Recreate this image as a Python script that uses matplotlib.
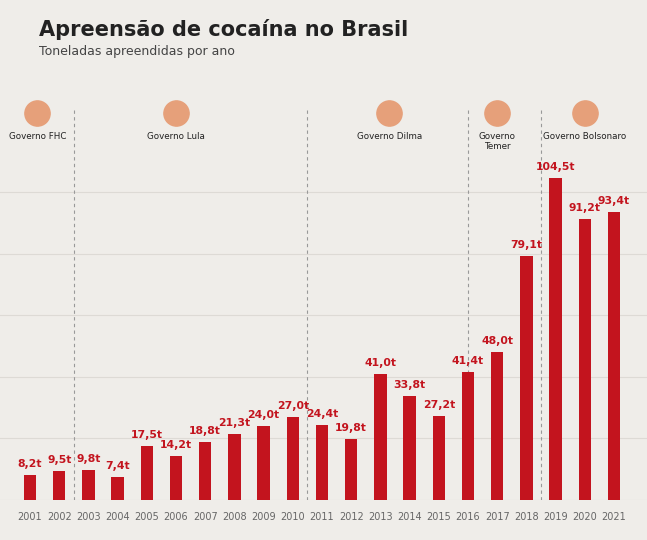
import matplotlib
matplotlib.use("Agg")
import matplotlib.pyplot as plt

years = list(range(2001, 2022))
values = [8.2, 9.5, 9.8, 7.4, 17.5, 14.2, 18.8, 21.3, 24.0, 27.0, 24.4, 19.8, 41.0, 33.8, 27.2, 41.4, 48.0, 79.1, 104.5, 91.2, 93.4]
labels = ["8,2t", "9,5t", "9,8t", "7,4t", "17,5t", "14,2t", "18,8t", "21,3t", "24,0t", "27,0t", "24,4t", "19,8t", "41,0t", "33,8t", "27,2t", "41,4t", "48,0t", "79,1t", "104,5t", "91,2t", "93,4t"]
governos = ["Governo FHC", "Governo Lula", "Governo Dilma", "Governo\nTemer", "Governo Bolsonaro"]
gov_x = [2001.25, 2006.0, 2013.3, 2017.0, 2020.0]
dividers = [2002.5, 2010.5, 2016.0, 2018.5]

bg = "#efede9"
red = "#c3141e"
fig = plt.figure(figsize=(6.47, 5.40), dpi=100, facecolor=bg)
ax = fig.add_axes([0, 40/540, 1, 400/540])
ax.set_facecolor(bg)
ax.set_xlim(2001 - 30/29.2, 2001 + 617/29.2)
ax.set_ylim(0, 400/3.08)
for y in [20, 40, 60, 80, 100]:
    ax.axhline(y, color="#dddad5", lw=0.8, zorder=0)
ax.axhline(0, color="#cfcbc5", lw=0.8, zorder=0)
ax.bar(years, values, width=0.42, color=red, zorder=2)
for x, v, l in zip(years, values, labels):
    ax.text(x, v + 2, l, ha="center", va="bottom", color=red, fontsize=7.8,
            fontweight="bold")
    ax.text(x, -4, str(x), ha="center", va="top", color="#666666", fontsize=7)
for d in dividers:
    ax.plot([d, d], [0, 127], ls=(0, (3, 3)), color="#999999", lw=0.8, zorder=1)
for g, x in zip(governos, gov_x):
    ax.text(x, 119.5, g, ha="center", va="top",
            fontsize=6.3, color="#222222", linespacing=1.1)
    ax.scatter([x], [125.5], s=330, color="#e6a07a", zorder=3)
ax.axis("off")
fig.text(0.06, 0.945, "Apreensão de cocaína no Brasil", fontsize=15, fontweight="bold", color="#222222", va="center")
fig.text(0.06, 0.905, "Toneladas apreendidas por ano", fontsize=9, color="#444444", va="center")
fig.savefig("out.png", dpi=100, facecolor=bg)
